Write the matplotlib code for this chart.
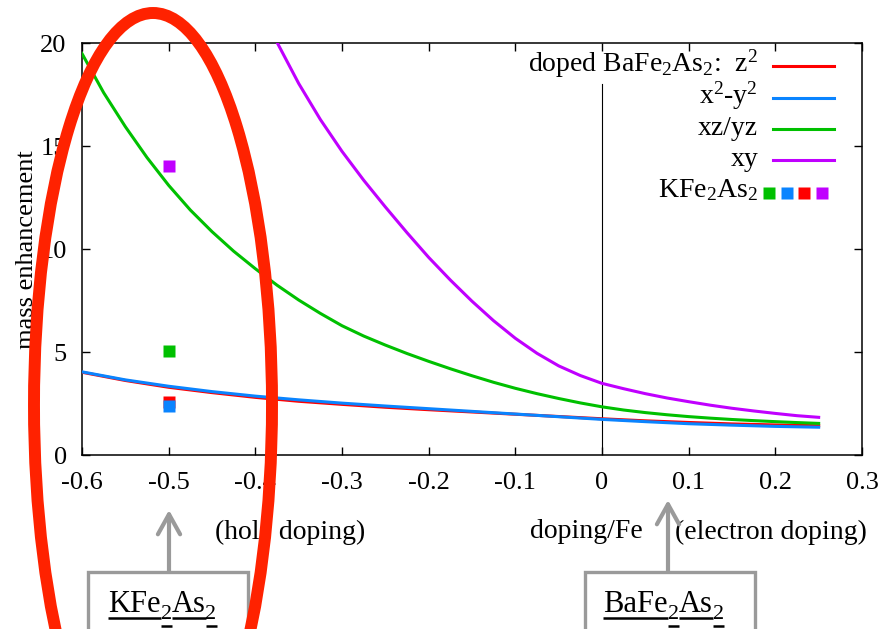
import matplotlib
matplotlib.use("Agg")
import matplotlib.pyplot as plt
from matplotlib.patches import Ellipse, Rectangle

# ---- data -------------------------------------------------------------
doping = [-0.60, -0.55, -0.50, -0.45, -0.40, -0.35, -0.30, -0.25, -0.20,
          -0.15, -0.10, -0.05, 0.00, 0.05, 0.10, 0.15, 0.20, 0.25]
z2 = [4.02, 3.62, 3.29, 3.03, 2.80, 2.61, 2.46, 2.32, 2.20,
      2.09, 1.98, 1.87, 1.76, 1.66, 1.58, 1.51, 1.46, 1.42]
x2y2 = [4.04, 3.65, 3.34, 3.08, 2.86, 2.68, 2.52, 2.38, 2.25,
        2.12, 1.99, 1.86, 1.73, 1.62, 1.52, 1.45, 1.39, 1.35]

doping_fine = [-0.600, -0.575, -0.550, -0.525, -0.500, -0.475, -0.450, -0.425,
               -0.400, -0.375, -0.350, -0.325, -0.300, -0.275, -0.250, -0.225,
               -0.200, -0.175, -0.150, -0.125, -0.100, -0.075, -0.050, -0.025,
               0.000, 0.025, 0.050, 0.075, 0.100, 0.125, 0.150, 0.175,
               0.200, 0.225, 0.250]
xzyz = [19.5, 17.6, 15.95, 14.45, 13.1, 11.9, 10.85, 9.9,
        9.05, 8.25, 7.53, 6.88, 6.28, 5.78, 5.34, 4.93,
        4.55, 4.19, 3.85, 3.53, 3.24, 2.98, 2.745, 2.53,
        2.34, 2.185, 2.06, 1.955, 1.865, 1.79, 1.725, 1.67,
        1.62, 1.575, 1.535]

doping_xy = [-0.400, -0.375, -0.350, -0.325, -0.300, -0.275, -0.250, -0.225,
             -0.200, -0.175, -0.150, -0.125, -0.100, -0.075, -0.050, -0.025,
             0.000, 0.025, 0.050, 0.075, 0.100, 0.125, 0.150, 0.175,
             0.200, 0.225, 0.250]
xy = [22.3, 20.05, 18.05, 16.3, 14.75, 13.35, 12.05, 10.8,
      9.6, 8.5, 7.47, 6.52, 5.67, 4.94, 4.33, 3.86,
      3.48, 3.22, 2.98, 2.77, 2.59, 2.42, 2.27, 2.14,
      2.02, 1.91, 1.83]

kfe_doping = -0.5
kfe_orbitals = ["xz/yz", "z2", "x2-y2", "xy"]
kfe_values = [5.05, 2.56, 2.39, 14.04]

xticks = [-0.6, -0.5, -0.4, -0.3, -0.2, -0.1, 0.0, 0.1, 0.2, 0.3]
xtick_labels = ["-0.6", "-0.5", "-0.4", "-0.3", "-0.2", "-0.1", "0", "0.1", "0.2", "0.3"]
yticks = [0, 5, 10, 15, 20]
ytick_labels = ["0", "5", "10", "15", "20"]

# ---- style ------------------------------------------------------------
plt.rcParams["font.family"] = ["Liberation Serif", "DejaVu Serif"]
plt.rcParams["mathtext.fontset"] = "custom"
plt.rcParams["mathtext.rm"] = "Liberation Serif"
plt.rcParams["mathtext.it"] = "Liberation Serif"
plt.rcParams["axes.unicode_minus"] = False

RED, BLUE, GREEN, PURPLE = "#ff0000", "#0a84ff", "#00c000", "#c000ff"
colors = {"z2": RED, "x2-y2": BLUE, "xz/yz": GREEN, "xy": PURPLE}
FS_TICK = 19
FS = 20
LW = 2.2

W, H = 883, 629
fig = plt.figure(figsize=(W / 100, H / 100), dpi=100)
ax = fig.add_axes([82 / W, 1 - 455 / H, 780 / W, 411.7 / H])

ax.plot(doping, z2, color=RED, lw=LW, zorder=3)
ax.plot(doping, x2y2, color=BLUE, lw=LW, zorder=4)
ax.plot(doping_fine, xzyz, color=GREEN, lw=LW, zorder=3)
ax.plot(doping_xy, xy, color=PURPLE, lw=LW, zorder=3)

for orb, val in zip(kfe_orbitals, kfe_values):
    ax.plot([kfe_doping], [val], "s", color=colors[orb], ms=8.4, mec="none",
            zorder=5)

# undoped reference line
ax.plot([0, 0], [0, 18], color="black", lw=0.8, zorder=2)

ax.set_xlim(-0.6, 0.3)
ax.set_ylim(0, 20)
ax.set_xticks(xticks)
ax.set_xticklabels(xtick_labels)
ax.set_yticks(yticks)
ax.set_yticklabels(ytick_labels)
ax.tick_params(direction="in", length=6, width=1, labelsize=FS_TICK,
               top=True, right=True, colors="black")
ax.tick_params(axis="x", pad=12)
ax.tick_params(axis="y", pad=11)
for s in ax.spines.values():
    s.set_linewidth(1.1)

ax.set_ylabel("mass enhancement", fontsize=FS_TICK)
ax.yaxis.label.set_va("center")
ax.yaxis.set_label_coords(-0.071, 0.498)

ax.text(0.2667, -0.187, "(hole doping)", transform=ax.transAxes,
        ha="center", va="center", fontsize=FS)
ax.text(0.646, -0.187, "doping/Fe", transform=ax.transAxes,
        ha="center", va="center", fontsize=FS)
ax.text(0.883, -0.187, "(electron doping)", transform=ax.transAxes,
        ha="center", va="center", fontsize=FS)

# ---- key --------------------------------------------------------------
key_text_x = 0.8667
key_line = (0.8853, 0.9644)
key_rows = [
    ("doped BaFe$_2$As$_2$:  z$^2$", RED, 0.9449),
    ("x$^2$-y$^2$", BLUE, 0.8664),
    ("xz/yz", GREEN, 0.7911),
    ("xy", PURPLE, 0.7165),
]
for label, col, yrow in key_rows:
    ax.text(key_text_x, yrow - 0.0134, label, transform=ax.transAxes,
            ha="right", va="baseline", fontsize=FS)
    ax.plot(key_line, [yrow, yrow], color=col, lw=LW, transform=ax.transAxes,
            clip_on=False)
yrow = 0.6356
ax.text(key_text_x, yrow - 0.008, "KFe$_2$As$_2$", transform=ax.transAxes,
        ha="right", va="baseline", fontsize=FS)
for xk, col in zip([0.8808, 0.9035, 0.9252, 0.9490], [GREEN, BLUE, RED, PURPLE]):
    ax.plot([xk], [yrow], "s", color=col, ms=8.4, mec="none",
            transform=ax.transAxes, clip_on=False)

# ---- annotations in figure pixels ---------------------------------------
ov = fig.add_axes([0, 0, 1, 1])
ov.set_xlim(0, W)
ov.set_ylim(H, 0)
ov.axis("off")
ov.set_facecolor("none")
ov.set_zorder(10)

GRAY = "#9a9a9a"
ov.add_patch(Rectangle((88.3, 571.7), 160, 120, ec=GRAY, fc="white", lw=2.4))
ov.add_patch(Rectangle((585, 571.7), 170, 120, ec=GRAY, fc="white", lw=2.4))

arrow = dict(arrowstyle="->,head_length=0.72,head_width=0.4", lw=3,
             color=GRAY, mutation_scale=20, shrinkA=0, shrinkB=0)
ov.annotate("", xy=(169, 510), xytext=(169, 571.7), arrowprops=arrow)
ov.annotate("", xy=(668, 500), xytext=(668, 571.7), arrowprops=arrow)

renderer = fig.canvas.get_renderer()


def underlined(x, y, parts, size=22):
    for s, sub in parts:
        fs = size * 0.72 if sub else size
        yb = y + 7 if sub else y
        t = ov.text(x, yb, s, fontsize=fs, ha="left", va="baseline")
        w = t.get_window_extent(renderer).width
        yl = 625.5 if sub else 617.5
        ov.plot([x, x + w], [yl, yl], color="black", lw=1.8,
                solid_capstyle="butt")
        x += w


underlined(108, 611.7, [("KFe", False), ("2", True), ("As", False), ("2", True)])
underlined(603.3, 611.7, [("BaFe", False), ("2", True), ("As", False), ("2", True)])

ov.add_patch(Ellipse((153, 405), 238, 784, ec="#ff2200", fc="none", lw=8.6))

fig.savefig("out.png", dpi=100)
